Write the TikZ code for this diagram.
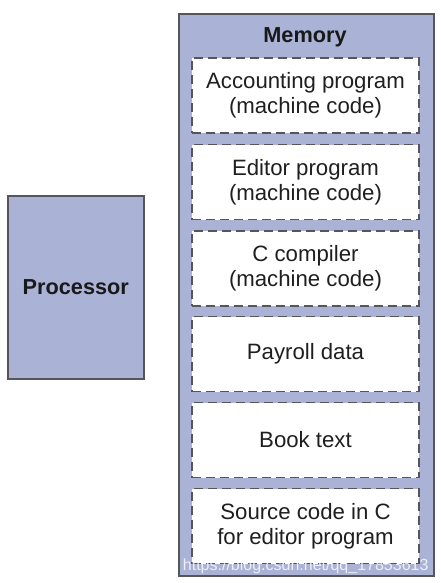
\documentclass[tikz,border=0pt]{standalone}
\usepackage{fontspec}
\setmainfont{Liberation Sans}
\definecolor{lav}{RGB}{170,178,214}
\definecolor{edge}{RGB}{85,85,90}
\tikzset{
  unitbox/.style={draw=edge, line width=1.6pt, fill=lav, inner sep=0pt},
  membox/.style={draw=edge, line width=1.9pt, dash pattern=on 9pt off 5pt, fill=white,
    minimum width=227pt, minimum height=75pt, inner sep=0pt, align=center,
    font=\fontsize{22.2}{25}\selectfont, text=black!88},
  boldlab/.style={font=\bfseries\fontsize{21.7}{25}\selectfont, text=black!90}
}
\begin{document}
\begin{tikzpicture}[x=1pt,y=-1pt]
\useasboundingbox (0,0) rectangle (441,583);
\node[unitbox, minimum width=255pt, minimum height=562pt, anchor=north west] (mem) at (178,13) {};
\node[boldlab] (memlab) at (305,37) {Memory};
\node[unitbox, minimum width=136pt, minimum height=183pt, anchor=north west] (proc) at (7,195) {};
\node[boldlab] (proclab) at (proc.center) {Processor};
\node[membox] (b1) at (305.5,95.5) {Accounting program\\(machine code)};
\node[membox] (b2) at (305.5,182) {Editor program\\(machine code)};
\node[membox] (b3) at (305.5,268.5) {C compiler\\(machine code)};
\node[membox] (b4) at (305.5,354) {Payroll data};
\node[membox] (b5) at (305.5,440) {Book text};
\node[membox] (b6) at (305.5,526) {Source code in C\\for editor program};
\node[text=white, opacity=0.8, font=\fontsize{16}{16}\selectfont, anchor=east] (wm) at (432,566) {https://blog.csdn.net/qq\_17853613};
\end{tikzpicture}
\end{document}
